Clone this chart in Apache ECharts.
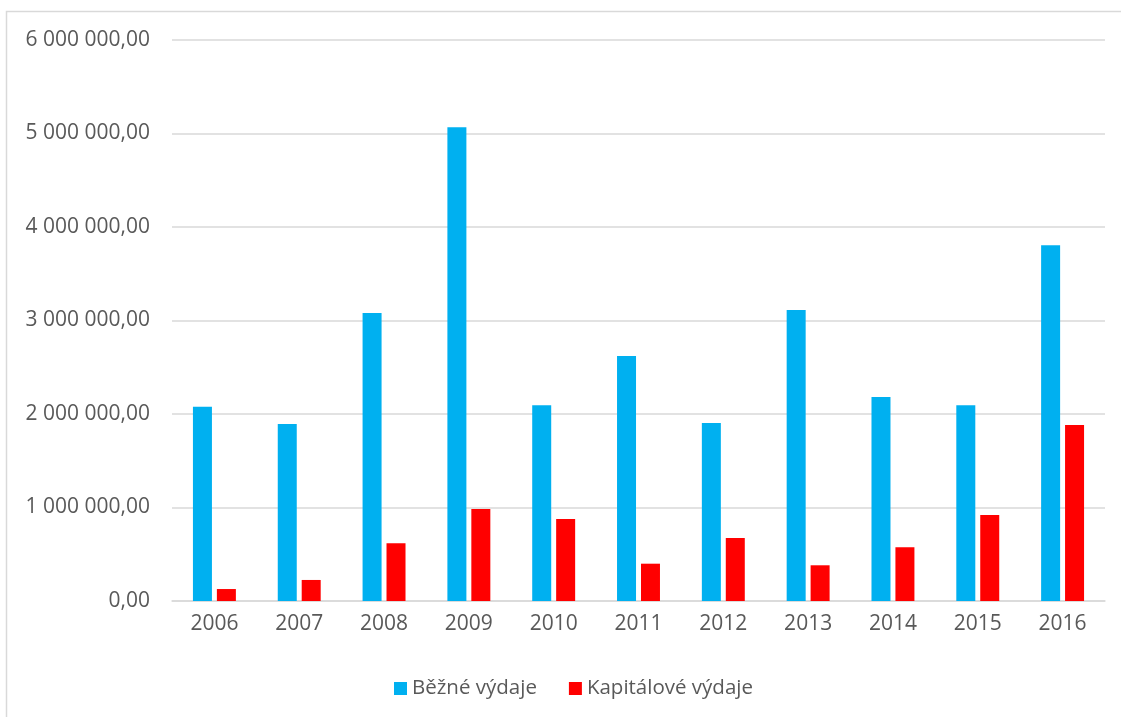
<!DOCTYPE html>
<html>
<head>
<meta charset="utf-8">
<script src="https://cdn.jsdelivr.net/npm/echarts@6/dist/echarts.min.js"></script>
<style>
html,body{margin:0;padding:0;background:#fff;}
#chart{width:1121px;height:717px;}
</style>
</head>
<body>
<div id="chart"></div>
<script>
const categories = ['2006','2007','2008','2009','2010','2011','2012','2013','2014','2015','2016'];
const bezneVydaje = [2078000, 1893000, 3080000, 5066000, 2093000, 2620000, 1904000, 3112000, 2182000, 2093000, 3804000];
const kapitaloveVydaje = [128000, 225000, 617000, 984000, 877000, 399000, 674000, 382000, 574000, 920000, 1882000];
const seriesNames = ['Běžné výdaje', 'Kapitálové výdaje'];

function fmt(v){
  const s = Math.round(v).toString().replace(/\B(?=(\d{3})+(?!\d))/g, ' ');
  return s + ',00';
}

const chart = echarts.init(document.getElementById('chart'));
const font = '"Open Sans", "Noto Sans", sans-serif';
chart.setOption({
  animation: false,
  textStyle: {fontFamily: font},
  graphic: [{
    type: 'rect',
    shape: {x: 6.5, y: 11.5, width: 1300, height: 900},
    style: {fill: 'none', stroke: '#d9d9d9', lineWidth: 1.5},
    silent: true
  }],
  grid: {left: 172, right: 16, top: 40, bottom: 116, containLabel: false},
  legend: {
    top: 673,
    left: 389,
    itemWidth: 13,
    itemHeight: 13,
    itemGap: 32,
    icon: 'rect',
    textStyle: {fontSize: 20.5, color: '#595959', fontFamily: font},
    data: seriesNames
  },
  xAxis: {
    type: 'category',
    data: categories,
    axisLine: {show: true, lineStyle: {color: '#d9d9d9', width: 1.5}},
    axisTick: {show: false},
    axisLabel: {fontSize: 21, color: '#595959', margin: 13, fontFamily: font}
  },
  yAxis: {
    type: 'value',
    min: 0,
    max: 6000000,
    interval: 1000000,
    axisLine: {show: false},
    axisTick: {show: false},
    splitLine: {lineStyle: {color: '#d9d9d9', width: 1.5}},
    axisLabel: {fontSize: 21, color: '#595959', margin: 22, fontFamily: font, formatter: fmt}
  },
  series: [
    {name: seriesNames[0], type: 'bar', data: bezneVydaje, barWidth: 19, barGap: '26%',
     itemStyle: {color: '#00B0F0'}},
    {name: seriesNames[1], type: 'bar', data: kapitaloveVydaje, barWidth: 19, barGap: '26%',
     itemStyle: {color: '#FF0000'}}
  ]
});
</script>
</body>
</html>
